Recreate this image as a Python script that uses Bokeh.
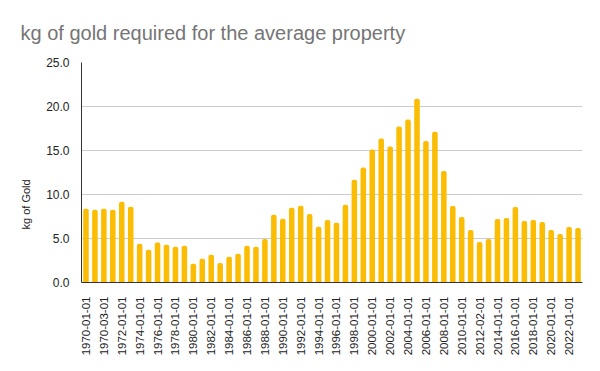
import math
from bokeh.plotting import figure
from bokeh.models import ColumnDataSource, Range1d, FixedTicker, NumeralTickFormatter, Title
from bokeh.embed import file_html
from bokeh.resources import INLINE

# ---- data ----
dates = [
    "1970-01-01", "1970-02-01", "1970-03-01", "1971-01-01", "1972-01-01", "1973-01-01",
    "1974-01-01", "1975-01-01", "1976-01-01", "1977-01-01", "1978-01-01", "1979-01-01",
    "1980-01-01", "1981-01-01", "1982-01-01", "1983-01-01", "1984-01-01", "1985-01-01",
    "1986-01-01", "1987-01-01", "1988-01-01", "1989-01-01", "1990-01-01", "1991-01-01",
    "1992-01-01", "1993-01-01", "1994-01-01", "1995-01-01", "1996-01-01", "1997-01-01",
    "1998-01-01", "1999-01-01", "2000-01-01", "2001-01-01", "2002-01-01", "2003-01-01",
    "2004-01-01", "2005-01-01", "2006-01-01", "2007-01-01", "2008-01-01", "2009-01-01",
    "2010-01-01", "2011-01-01", "2012-02-01", "2013-01-01", "2014-01-01", "2015-01-01",
    "2016-01-01", "2017-01-01", "2018-01-01", "2019-01-01", "2020-01-01", "2021-01-01",
    "2022-01-01", "2023-01-01",
]
kg_gold = [
    8.37, 8.26, 8.37, 8.26, 9.17, 8.6, 4.39, 3.71, 4.55, 4.28, 4.05, 4.17,
    2.12, 2.69, 3.14, 2.23, 2.92, 3.26, 4.17, 4.06, 4.93, 7.7, 7.25, 8.5,
    8.73, 7.78, 6.34, 7.1, 6.79, 8.84, 11.69, 13.06, 15.1, 16.36, 15.45, 17.72,
    18.52, 20.87, 16.09, 17.12, 12.68, 8.69, 7.44, 5.96, 4.59, 4.93, 7.21, 7.32,
    8.58, 6.98, 7.1, 6.87, 5.96, 5.5, 6.3, 6.19,
]
y_ticks = [0, 5, 10, 15, 20, 25]
title_text = "kg of gold required for the average property"
y_title = "kg of Gold"

# ---- layout ----
W, H = 600, 371
ML, MR, MT, MB = 81, 18, 62, 89
n = len(dates)

src = ColumnDataSource(dict(x=list(range(n)), top=kg_gold, date=dates))

p = figure(width=W, height=H, output_backend="svg", toolbar_location=None,
           x_range=Range1d(-0.5, n - 0.5), y_range=Range1d(0, 25),
           min_border_left=ML, min_border_right=MR, min_border_top=MT, min_border_bottom=MB)
p.outline_line_color = None
p.background_fill_color = "white"
p.border_fill_color = "white"

p.vbar(x="x", top="top", bottom=0, width=0.62, source=src,
       fill_color="#FBBC04", line_color=None, border_radius=(2, 2, 0, 0))

# y axis
p.yaxis.ticker = FixedTicker(ticks=y_ticks)
p.yaxis.formatter = NumeralTickFormatter(format="0.0")
p.yaxis.major_label_text_font = "Liberation Sans"
p.yaxis.major_label_text_font_size = "12px"
p.yaxis.major_label_text_color = "#222222"
p.yaxis.major_tick_line_color = None
p.yaxis.minor_tick_line_color = None
p.yaxis.major_label_standoff = 6
p.yaxis.axis_line_color = "#333333"

# x axis
p.xaxis.ticker = FixedTicker(ticks=list(range(0, n, 2)))
p.xaxis.major_label_overrides = {i: dates[i] for i in range(0, n, 2)}
p.xaxis.major_label_orientation = math.pi / 2
p.xaxis.major_label_text_font = "Liberation Sans"
p.xaxis.major_label_text_font_size = "11.5px"
p.xaxis.major_label_text_color = "#222222"
p.xaxis.major_tick_line_color = None
p.xaxis.minor_tick_line_color = None
p.xaxis.major_label_standoff = 8
p.xaxis.axis_line_color = "#333333"

p.xgrid.grid_line_color = None
p.ygrid.grid_line_color = "#cccccc"
p.ygrid.ticker = FixedTicker(ticks=y_ticks)

# chart title
p.title.text = title_text
p.title.text_font = "Liberation Sans"
p.title.text_font_size = "20px"
p.title.text_font_style = "normal"
p.title.text_color = "#757575"
p.title.align = "left"
p.title.offset = -61
p.title.standoff = 38

# y-axis title as a side title
p.add_layout(Title(text=y_title, align="left", offset=53, standoff=23,
                   text_font="Liberation Sans", text_font_size="11px",
                   text_font_style="normal", text_color="#222222"), "left")

open("out.html", "w").write(file_html(p, INLINE))
